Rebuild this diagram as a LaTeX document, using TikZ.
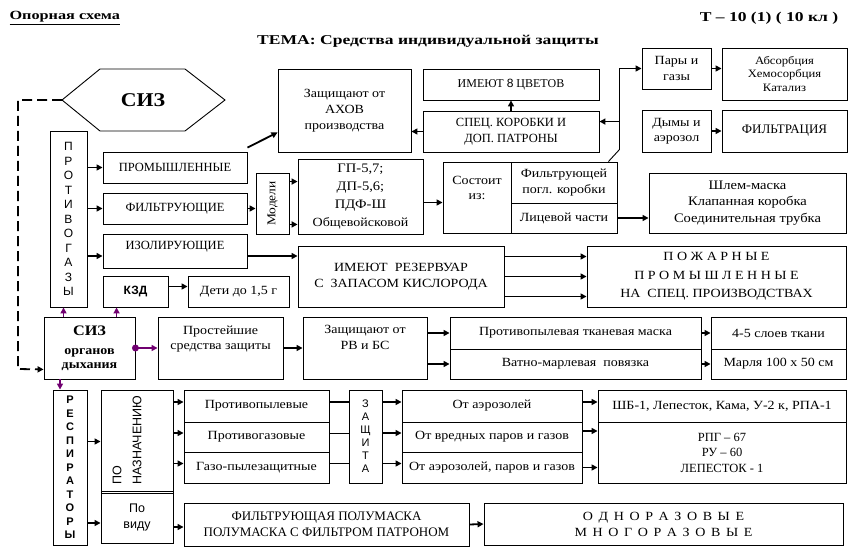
\documentclass[tikz,border=0pt]{standalone}
\usepackage{fontspec}
\setmainfont{Liberation Serif}[FakeStretch=1.12]
\newfontfamily\capsfont{Liberation Serif}
\newfontfamily\headfont[FakeStretch=1.3]{Liberation Serif}
\setsansfont{Liberation Sans}
\usetikzlibrary{arrows.meta}
\definecolor{purp}{RGB}{112,0,112}

\begin{document}
\begin{tikzpicture}[x=1pt,y=-1pt,
  box/.style={draw, line width=0.9pt, inner sep=2pt, align=center, font=\fontsize{12.5}{15.5}\selectfont},
  caps/.style={font=\capsfont\fontsize{12.5}{15.5}\selectfont},
  wh/.style 2 args={minimum width=#1, minimum height=#2},
  arr/.style={line width=1.8pt, -{Triangle[length=6pt,width=6pt]}},
  parr/.style={purp, line width=1.8pt, -{Triangle[length=6pt,width=6pt]}},
  upper/.style={font=\sffamily\fontsize{12}{14.5}\selectfont}]
\useasboundingbox (0,0) rectangle (856,556);

\node[anchor=west, font=\headfont\bfseries\fontsize{12.5}{14}\selectfont] (opora) at (6,18) {\underline{Опорная схема}};
\node[font=\headfont\bfseries\fontsize{13.5}{15}\selectfont] (tema) at (428,41) {ТЕМА: Средства индивидуальной защиты};
\node[font=\headfont\bfseries\fontsize{13.5}{15}\selectfont] (tnum) at (769,18) {Т – 10 (1) ( 10 кл )};

% СИЗ
\draw[line width=0.9pt] (62,100) coordinate (sizL) -- (100,69) -- (185,69) -- (225,100) -- (185,131) -- (100,131) -- cycle;
\node[font=\bfseries\fontsize{19.5}{22}\selectfont] (siz) at (143,100) {СИЗ};

% противогазы
\node[box, wh={37}{176}, upper] (protiv) at (68.5,219) {П\\Р\\О\\Т\\И\\В\\О\\Г\\А\\З\\Ы};
\node[box, wh={144}{31}, caps] (prom) at (175,167.5) {ПРОМЫШЛЕННЫЕ};
\node[box, wh={144}{31}, caps] (filt) at (175,208.5) {ФИЛЬТРУЮЩИЕ};
\node[box, wh={144}{34}, caps, text depth=12pt] (izol) at (175,251) {ИЗОЛИРУЮЩИЕ};
\node[box, wh={65}{31}, font=\sffamily\bfseries\fontsize{12}{14}\selectfont] (kzd) at (135.5,291.5) {КЗД};
\node[box, wh={101}{31}] (deti) at (238.5,291.5) {Дети до 1,5 г};
\node[box, wh={33}{61}] (model) at (272.5,203.5) {};
\node[rotate=90, font=\fontsize{12}{14}\selectfont] (modelT) at (model) {Модели};
\node[box, wh={125}{75}, font=\fontsize{13}{18}\selectfont] (gp) at (360.5,196.5) {ГП-5,7;\\ДП-5,6;\\ПДФ-Ш\\{\fontsize{12.5}{14}\selectfont Общевойсковой}};
\node[box, wh={133}{83}, font=\fontsize{12.5}{16}\selectfont] (ahov) at (344.5,110.5) {Защищают от\\АХОВ\\производства};
\node[box, wh={176}{31}, font=\capsfont\fontsize{12}{15}\selectfont] (cvet) at (511,84.5) {ИМЕЮТ {\sffamily 8} ЦВЕТОВ};
\node[box, wh={176}{41}, font=\capsfont\fontsize{12.5}{16}\selectfont] (spec) at (511,131.5) {СПЕЦ. КОРОБКИ И\\ДОП. ПАТРОНЫ};
\node[box, wh={69}{41}] (pary) at (676.5,68.5) {Пары и\\газы};
\node[box, wh={125}{52}, font=\fontsize{11.3}{13.5}\selectfont] (absorb) at (784.5,74) {Абсорбция\\Хемосорбция\\Катализ};
\node[box, wh={69}{42}] (dym) at (676.5,131) {Дымы и\\аэрозол};
\node[box, wh={125}{42}, font=\capsfont\fontsize{13}{15}\selectfont] (filtr) at (784.5,131) {ФИЛЬТРАЦИЯ};
\node[box, wh={68}{71}, text depth=19pt] (sost) at (477,197.5) {Состоит\\из:};
\node[box, wh={106}{41}] (fpk) at (564,182.5) {Фильтрующей\\погл. коробки};
\node[box, wh={106}{30}] (lic) at (564,218) {Лицевой части};
\node[box, wh={197}{60}, font=\fontsize{13}{16.5}\selectfont] (shlem) at (747.5,203) {Шлем-маска\\Клапанная коробка\\Соединительная трубка};
\node[box, wh={206}{61}] (rez) at (401,276.5) {ИМЕЮТ\ \ РЕЗЕРВУАР\\С\ \ ЗАПАСОМ КИСЛОРОДА};
\node[box, wh={259}{61}, font=\fontsize{12.5}{18.5}\selectfont] (pozh) at (716.5,276.5) {П О Ж А Р Н Ы Е\\П Р О М Ы Ш Л Е Н Н Ы Е\\НА\ \ СПЕЦ. ПРОИЗВОДСТВАХ};

% органы дыхания
\node[box, wh={91}{62}, font=\bfseries\fontsize{12.5}{14}\selectfont] (sizod) at (89.5,348) {{\fontsize{14.5}{16}\selectfont СИЗ}\\[5pt]органов\\дыхания};
\node[box, wh={125}{62}, text depth=21pt] (prost) at (220.5,348) {Простейшие\\средства защиты};
\node[box, wh={124}{62}, text depth=21pt] (rvbs) at (365,348) {Защищают от\\РВ и БС};
\node[box, wh={251}{32}] (maska) at (575.5,333) {Противопылевая тканевая маска};
\node[box, wh={251}{30}] (povyaz) at (575.5,364) {Ватно-марлевая\ \ повязка};
\node[box, wh={135}{32}] (tkan) at (778.5,333) {4-5 слоев ткани};
\node[box, wh={135}{30}] (marlya) at (778.5,364) {Марля 100 х 50 см};

% респираторы
\node[box, wh={34}{155}, font=\sffamily\bfseries\fontsize{11}{13.5}\selectfont] (resp) at (70,467.5) {Р\\Е\\С\\П\\И\\Р\\А\\Т\\О\\Р\\Ы};
\node[box, wh={72}{103}] (naz) at (137,441.5) {};
\node[rotate=90, align=left, font=\sffamily\fontsize{12.5}{20}\selectfont] (nazT) at (127,440) {ПО\\НАЗНАЧЕНИЮ};
\node[box, wh={72}{52}, font=\sffamily\fontsize{12.5}{16}\selectfont] (vid) at (137,517) {По\\виду};
\node[box, wh={145}{32}] (ppyl) at (256.5,406) {Противопылевые};
\node[box, wh={145}{30}] (pgaz) at (256.5,437) {Противогазовые};
\node[box, wh={145}{31}] (gpyl) at (256.5,467.5) {Газо-пылезащитные};
\node[box, wh={33}{93}, font=\sffamily\fontsize{11}{13}\selectfont] (zasch) at (365.5,436.5) {З\\А\\Щ\\И\\Т\\А};
\node[box, wh={180}{32}] (aer) at (492,406) {От аэрозолей};
\node[box, wh={180}{30}] (vred) at (492,437) {От вредных паров и газов};
\node[box, wh={180}{31}] (aerpg) at (492,467.5) {От аэрозолей, паров и газов};
\node[box, wh={248}{32}] (shb) at (722,406) {ШБ-1, Лепесток, Кама, У-2 к, РПА-1};
\node[box, wh={248}{61}, caps] (rpg) at (722,452.5) {РПГ – 67\\РУ – 60\\ЛЕПЕСТОК - 1};
\node[box, wh={285}{43}, font=\capsfont\fontsize{13}{15.5}\selectfont] (polum) at (326.5,524.5) {ФИЛЬТРУЮЩАЯ ПОЛУМАСКА\\ПОЛУМАСКА С ФИЛЬТРОМ ПАТРОНОМ};
\node[box, wh={359}{42}, font=\fontsize{12.5}{16}\selectfont\addfontfeature{LetterSpace=17}] (odnor) at (663.5,524) {О Д Н О Р А З О В Ы Е\\М Н О Г О Р А З О В Ы Е};
\node[font=\bfseries\fontsize{12}{14}\selectfont] (pnum) at (427,561) {17};

% стрелки
\foreach \t in {prom,filt}
  \draw[arr] (protiv.east |- \t.west) -- (\t.west);
\draw[arr] ([yshift=-5pt]protiv.east |- izol.west) -- ([yshift=-5pt]izol.west);
\draw[arr] ([yshift=4pt]prom.north east) -- ([yshift=20pt]ahov.south west);
\draw[arr] (filt.east) -- (filt.east -| model.west);
\draw[arr] ([yshift=-9pt]model.north east) -- ([yshift=-9pt]model.north east -| gp.west);
\draw[arr] ([yshift=10pt]model.south east) -- ([yshift=10pt]model.south east -| gp.west);
\draw[arr] ([yshift=-6pt]gp.east) -- ([yshift=-6pt]gp.east -| sost.west);
\draw[arr] (spec.west) -- (spec.west -| ahov.east);
\draw[arr] (spec.north) -- (cvet.south);
\draw[line width=0.9pt] ([xshift=-9pt]fpk.north east) -- ([xshift=2pt,yshift=12pt]fpk.north east) coordinate (vt) -- (vt |- pary.west);
\draw[arr] (vt |- pary.west) -- (pary.west);
\draw[arr] ([yshift=-11pt]vt |- spec.north east) -- ([yshift=-11pt]spec.north east);
\draw[arr] (pary.east) -- (pary.east -| absorb.west);
\draw[arr] (dym.east) -- (dym.east -| filtr.west);
\draw[arr] (lic.east) -- (lic.east -| shlem.west);
\draw[arr] ([yshift=5pt]kzd.east) -- ([yshift=5pt]deti.west);
\draw[arr] ([yshift=-5pt]izol.east) -- ([yshift=-5pt]izol.east -| rez.west);
\foreach \s in {-20,0,20}
  \draw[arr] ([yshift=\s]rez.east) -- ([yshift=\s]rez.east -| pozh.west);

% фиолетовые
\draw[parr] ([xshift=-5pt]protiv.south |- sizod.north) -- ([xshift=-5pt]protiv.south);
\draw[parr] ([xshift=14pt]kzd.south west |- sizod.north) -- ([xshift=14pt]kzd.south west);
\fill[purp] (sizod.east) circle (3.5);
\draw[parr] (sizod.east) -- (prost.west);
\draw[parr] ([xshift=-10pt]resp.north |- sizod.south) -- ([xshift=-10pt]resp.north);
\coordinate (dk) at (18,369);
\draw[line width=1.8pt, dash pattern=on 10pt off 5pt, -{Triangle[length=6pt,width=6pt]}] (sizL) -| (dk) -- ([yshift=10pt]sizod.south west);

\draw[arr] (prost.east) -- (rvbs.west);
\draw[arr] (rvbs.east |- maska.west) -- (maska.west);
\draw[arr] (rvbs.east |- povyaz.west) -- (povyaz.west);
\draw[arr] (maska.east) -- (tkan.west);
\draw[arr] (povyaz.east) -- (marlya.west);
\draw[arr] (resp.east |- naz.west) -- (naz.west);
\draw[arr] ([yshift=-6pt]resp.east |- vid.west) -- ([yshift=-6pt]vid.west);
\foreach \t in {ppyl,pgaz,gpyl}
  \draw[arr] ([yshift=4pt]naz.east |- \t.west) -- ([yshift=4pt]\t.west);
\draw[line width=1.8pt] ([yshift=4pt]ppyl.east) -- ([yshift=4pt]ppyl.east -| zasch.west);
\draw[line width=0.9pt] ([yshift=4pt]pgaz.east) -- ([yshift=4pt]pgaz.east -| zasch.west);
\draw[line width=1.8pt] ([yshift=4pt]gpyl.east) -- ([yshift=4pt]gpyl.east -| zasch.west);
\foreach \t in {aer,vred,aerpg}
  \draw[arr] ([yshift=4pt]zasch.east |- \t.west) -- ([yshift=4pt]\t.west);
\draw[arr] ([yshift=4pt]aer.east) -- ([yshift=4pt]aer.east -| shb.west);
\draw[arr] ([yshift=6pt]vred.east) -- ([yshift=6pt]vred.east -| rpg.west);
\draw[arr] (aerpg.east) -- (aerpg.east -| rpg.west);
\draw[arr] ([yshift=-10pt]vid.east) -- ([yshift=-10pt]vid.east -| polum.west);
\draw[arr] (polum.east) -- (odnor.west);
\end{tikzpicture}
\end{document}
